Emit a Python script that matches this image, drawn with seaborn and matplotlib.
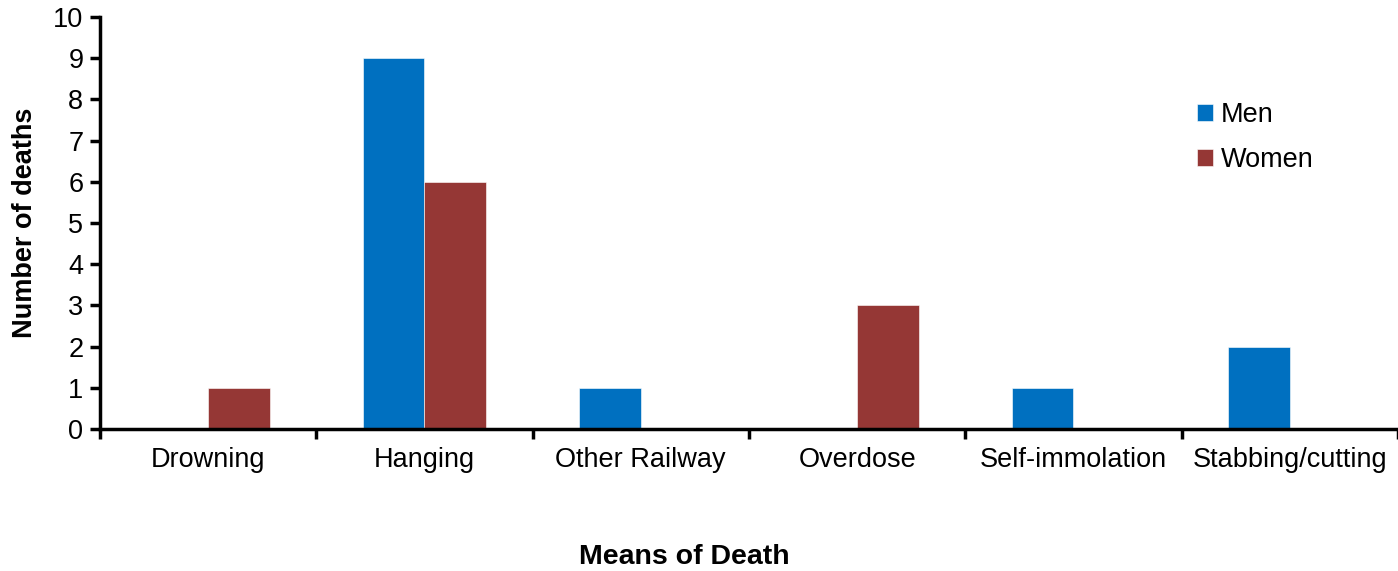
import pandas as pd
import matplotlib.pyplot as plt
import seaborn as sns
from matplotlib.ticker import FixedLocator

# -----------------------------
# Data
# -----------------------------
means = ["Drowning", "Hanging", "Other Railway", "Overdose", "Self-immolation", "Stabbing/cutting"]
men = [0, 9, 1, 0, 1, 2]
women = [1, 6, 0, 3, 0, 0]

df = pd.DataFrame({
    "Means": means * 2,
    "Deaths": men + women,
    "Sex": ["Men"] * len(means) + ["Women"] * len(means),
})

# -----------------------------
# Plot
# -----------------------------
sns.set_style("white")
plt.rcParams['font.family'] = ['Liberation Sans', 'DejaVu Sans']
plt.rcParams['text.color'] = 'black'
plt.rcParams['axes.labelcolor'] = 'black'
plt.rcParams['xtick.color'] = 'black'
plt.rcParams['ytick.color'] = 'black'

fig = plt.figure(figsize=(13.98, 5.71), dpi=100)
ax = fig.add_axes([0.0715, 0.2487, 0.9285, 0.7215])

sns.barplot(data=df, x="Means", y="Deaths", hue="Sex",
            palette={"Men": "#0070C0", "Women": "#953735"},
            width=0.572, gap=0, saturation=1, ax=ax,
            edgecolor="white", linewidth=0.4)

ax.set_xlim(-0.5, len(means) - 0.5)
ax.set_ylim(0, 10)
ax.set_yticks(range(0, 11))

# boundary ticks between categories
ax.xaxis.set_minor_locator(FixedLocator([i - 0.5 for i in range(len(means) + 1)]))
ax.tick_params(axis="x", which="major", length=0, labelsize=19.5, pad=13)
ax.tick_params(axis="x", which="minor", length=7, width=2.5, direction="out",
               color="black", bottom=True)
ax.tick_params(axis="y", length=7, width=2.5, direction="out", labelsize=19.5,
               pad=5, color="black", left=True)

for side in ["top", "right"]:
    ax.spines[side].set_visible(False)
for side in ["left", "bottom"]:
    ax.spines[side].set_linewidth(2.5)
    ax.spines[side].set_color("black")

ax.set_xlabel("Means of Death", fontsize=20.5, fontweight="bold")
ax.xaxis.set_label_coords(0.45, -0.278)
ax.set_ylabel("Number of deaths", fontsize=19.5, fontweight="bold", labelpad=11)

ax.legend(loc="center left", bbox_to_anchor=(0.826, 0.707), frameon=False,
          fontsize=19.5, handlelength=0.6, handleheight=0.6, handletextpad=0.3,
          labelspacing=0.7, title=None)

plt.savefig("out.png", dpi=100)
plt.close()
